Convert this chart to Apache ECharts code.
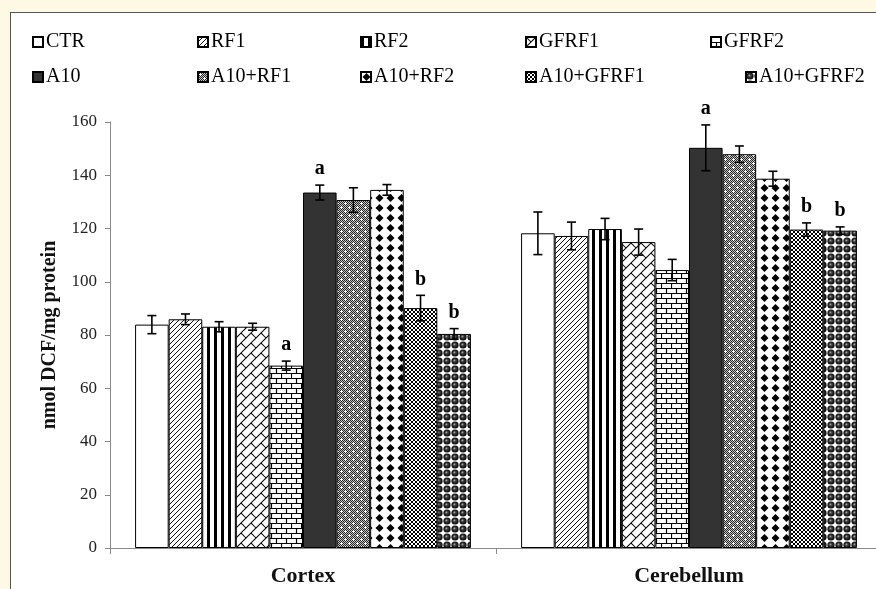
<!DOCTYPE html>
<html>
<head>
<meta charset="utf-8">
<script src="https://cdn.jsdelivr.net/npm/echarts@6/dist/echarts.min.js"></script>
<style>
html, body { margin: 0; padding: 0; width: 876px; height: 589px; overflow: hidden; background: #fdf9e4; }
#frame { position: absolute; left: 10px; top: 12px; width: 866px; height: 577px; background: #fff;
         border-left: 1px solid #555; border-top: 1px solid #555; box-sizing: border-box; overflow: hidden; }
#chart { position: absolute; left: 0; top: 0; width: 880px; height: 576px; }
</style>
</head>
<body>
<div id="frame"><div id="chart"></div></div>
<script>
// Brain regions on the category axis
const regions = ['Cortex', 'Cerebellum'];
// Treatment groups (one bar series each)
const groups = ['CTR', 'RF1', 'RF2', 'GFRF1', 'GFRF2', 'A10', 'A10+RF1', 'A10+RF2', 'A10+GFRF1', 'A10+GFRF2'];
// ROS level (nmol DCF/mg protein), mean and error per group
const cortexMean     = [83.9, 85.9, 83.1, 83.1, 68.5, 133.5, 130.7, 134.5, 90.1, 80.4];
const cortexErr      = [3.4, 2.0, 1.9, 1.3, 1.7, 2.8, 4.6, 2.0, 4.8, 2.0];
const cerebellumMean = [118.2, 117.2, 119.8, 114.9, 104.4, 150.3, 147.9, 138.7, 119.6, 119.2];
const cerebellumErr  = [8.0, 5.2, 4.0, 4.9, 4.0, 8.6, 3.1, 2.8, 2.5, 1.4];
// Significance letters
const cortexSig      = ['', '', '', '', 'a', 'a', '', '', 'b', 'b'];
const cerebellumSig  = ['', '', '', '', '', 'a', '', '', 'b', 'b'];
// Value axis
const yMin = 0, yMax = 160, yStep = 20;
const yTitle = 'nmol DCF/mg protein';

const SERIF = '"Liberation Serif", "Times New Roman", serif';
const CAT_GAP = 0.13;

// ---- fill patterns ----
function tile(w, h, draw) {
  const c = document.createElement('canvas');
  c.width = w; c.height = h;
  const ctx = c.getContext('2d');
  ctx.fillStyle = '#fff';
  ctx.fillRect(0, 0, w, h);
  draw(ctx, w, h);
  return { image: c, repeat: 'repeat' };
}
const fills = [
  '#ffffff',
  // fine diagonal hatch
  tile(5, 5, (ctx) => {
    ctx.strokeStyle = '#111'; ctx.lineWidth = 1;
    [-5, 0, 5].forEach(x0 => { ctx.beginPath(); ctx.moveTo(x0, 5); ctx.lineTo(x0 + 5, 0); ctx.stroke(); });
  }),
  // vertical stripes
  tile(7, 1, (ctx) => { ctx.fillStyle = '#000'; ctx.fillRect(0, 0, 3, 1); }),
  // diagonal brick
  tile(10, 10, (ctx) => {
    const h = 10 / Math.SQRT2, w = 2 * h;
    ctx.strokeStyle = '#000'; ctx.lineWidth = 1;
    ctx.rotate(-Math.PI / 4);
    for (let k = -4; k <= 4; k++) {
      ctx.beginPath(); ctx.moveTo(-60, k * h); ctx.lineTo(60, k * h); ctx.stroke();
      for (let j = -4; j <= 4; j++) {
        const x = j * w + ((k % 2 + 2) % 2 ? w / 2 : 0);
        ctx.beginPath(); ctx.moveTo(x, k * h); ctx.lineTo(x, (k + 1) * h); ctx.stroke();
      }
    }
  }),
  // horizontal brick
  tile(10, 10, (ctx) => {
    ctx.strokeStyle = '#000'; ctx.lineWidth = 1.2;
    ctx.beginPath();
    ctx.moveTo(0, 0.5); ctx.lineTo(10, 0.5);
    ctx.moveTo(0, 5.5); ctx.lineTo(10, 5.5);
    ctx.moveTo(0.5, 0); ctx.lineTo(0.5, 5.5);
    ctx.moveTo(5.5, 5.5); ctx.lineTo(5.5, 10);
    ctx.stroke();
  }),
  '#333333',
  // dark dither with white crosses
  tile(8, 8, (ctx) => {
    for (let y = 0; y < 8; y++) for (let x = 0; x < 8; x++) {
      ctx.fillStyle = (x + y) % 2 ? '#c4c4c4' : '#262626';
      ctx.fillRect(x, y, 1, 1);
    }
    ctx.fillStyle = '#fff';
    [[2, 2], [6, 6]].forEach(([cx, cy]) => {
      ctx.fillRect(cx, cy, 1, 1); ctx.fillRect(cx - 1, cy, 3, 1); ctx.fillRect(cx, cy - 1, 1, 3);
    });
  }),
  // solid diamonds
  tile(11, 10, (ctx) => {
    ctx.fillStyle = '#000';
    ctx.beginPath();
    ctx.moveTo(5.5, 1); ctx.lineTo(9.5, 5); ctx.lineTo(5.5, 9); ctx.lineTo(1.5, 5); ctx.closePath();
    ctx.fill();
  }),
  // small checker board
  tile(4, 4, (ctx) => { ctx.fillStyle = '#000'; ctx.fillRect(0, 0, 2, 2); ctx.fillRect(2, 2, 2, 2); }),
  // spheres
  tile(8, 8, (ctx) => {
    const g = ctx.createRadialGradient(3.2, 3.2, 0, 4, 4, 3.6);
    g.addColorStop(0, '#bdbdbd'); g.addColorStop(0.35, '#444'); g.addColorStop(1, '#000');
    ctx.fillStyle = g;
    ctx.beginPath(); ctx.arc(4, 4, 3.6, 0, Math.PI * 2); ctx.fill();
  })
];

// ---- legend placement: one [left, top] per entry, two rows ----
const legendPlaces = [
  [21, 19], [186, 19], [349, 19], [514, 19], [699, 19],
  [21, 54], [186, 54], [349, 54], [514, 54], [734, 54]
];

const legends = groups.map((name, i) => ({
  data: [name],
  left: legendPlaces[i][0],
  top: legendPlaces[i][1],
  padding: 0,
  itemWidth: 10,
  itemHeight: 10,
  icon: 'rect',
  selectedMode: false,
  textStyle: { fontFamily: SERIF, fontSize: 20, color: '#000', padding: [0, 0, 0, -2] }
}));

const barSeries = groups.map((name, i) => ({
  name,
  type: 'bar',
  data: [cortexMean[i], cerebellumMean[i]],
  barGap: 0,
  barCategoryGap: (CAT_GAP * 100) + '%',
  itemStyle: { color: fills[i], borderColor: '#000', borderWidth: 1 },
  emphasis: { disabled: true }
}));

// error bars + letters
const errItems = [];
[[cortexMean, cortexErr, cortexSig], [cerebellumMean, cerebellumErr, cerebellumSig]].forEach(([m, e, s], r) => {
  groups.forEach((_, g) => errItems.push({ value: [r, g, m[g], e[g]], sig: s[g] }));
});

const errSeries = {
  type: 'custom',
  z: 5,
  silent: true,
  encode: { x: 0, y: 2 },
  data: errItems.map(d => d.value),
  renderItem(params, api) {
    const r = api.value(0), g = api.value(1), m = api.value(2), e = api.value(3);
    const band = api.size([1, 0])[0];
    const bw = band * (1 - CAT_GAP) / groups.length;
    const cx = api.coord([r, m])[0] + (g - (groups.length - 1) / 2) * bw;
    const yT = api.coord([r, m + e])[1];
    const yB = api.coord([r, m - e])[1];
    const cap = 4.5;
    const st = { stroke: '#000', lineWidth: 1.6 };
    const children = [
      { type: 'line', shape: { x1: cx, y1: yT, x2: cx, y2: yB }, style: st },
      { type: 'line', shape: { x1: cx - cap, y1: yT, x2: cx + cap, y2: yT }, style: st },
      { type: 'line', shape: { x1: cx - cap, y1: yB, x2: cx + cap, y2: yB }, style: st }
    ];
    const sig = errItems[params.dataIndex].sig;
    if (sig) {
      children.push({ type: 'text', style: {
        text: sig, x: cx, y: yT - 6, align: 'center', verticalAlign: 'bottom',
        font: 'bold 20px ' + SERIF, fill: '#000'
      }});
    }
    return { type: 'group', children };
  }
};

const chart = echarts.init(document.getElementById('chart'), null, { renderer: 'canvas' });
chart.setOption({
  animation: false,
  backgroundColor: '#fff',
  legend: legends,
  grid: { left: 99, top: 109, bottom: 41, right: 9, containLabel: false, outerBoundsMode: 'none' },
  xAxis: {
    type: 'category',
    data: regions,
    axisLine: { lineStyle: { color: '#8a8a8a', width: 1 } },
    axisTick: { show: true, interval: 0, length: 6, lineStyle: { color: '#8a8a8a' } },
    axisLabel: { fontFamily: SERIF, fontWeight: 'bold', fontSize: 22, color: '#111', margin: 17 }
  },
  yAxis: {
    type: 'value',
    min: yMin, max: yMax, interval: yStep,
    name: yTitle,
    nameLocation: 'middle',
    nameGap: 50,
    nameTextStyle: { fontFamily: SERIF, fontWeight: 'bold', fontSize: 20, color: '#111' },
    axisLine: { show: true, lineStyle: { color: '#8a8a8a', width: 1 } },
    axisTick: { show: true, length: 5, lineStyle: { color: '#8a8a8a' } },
    axisLabel: { fontFamily: SERIF, fontSize: 17, color: '#222', margin: 13 },
    splitLine: { show: false }
  },
  series: [...barSeries, errSeries]
});
</script>
</body>
</html>
